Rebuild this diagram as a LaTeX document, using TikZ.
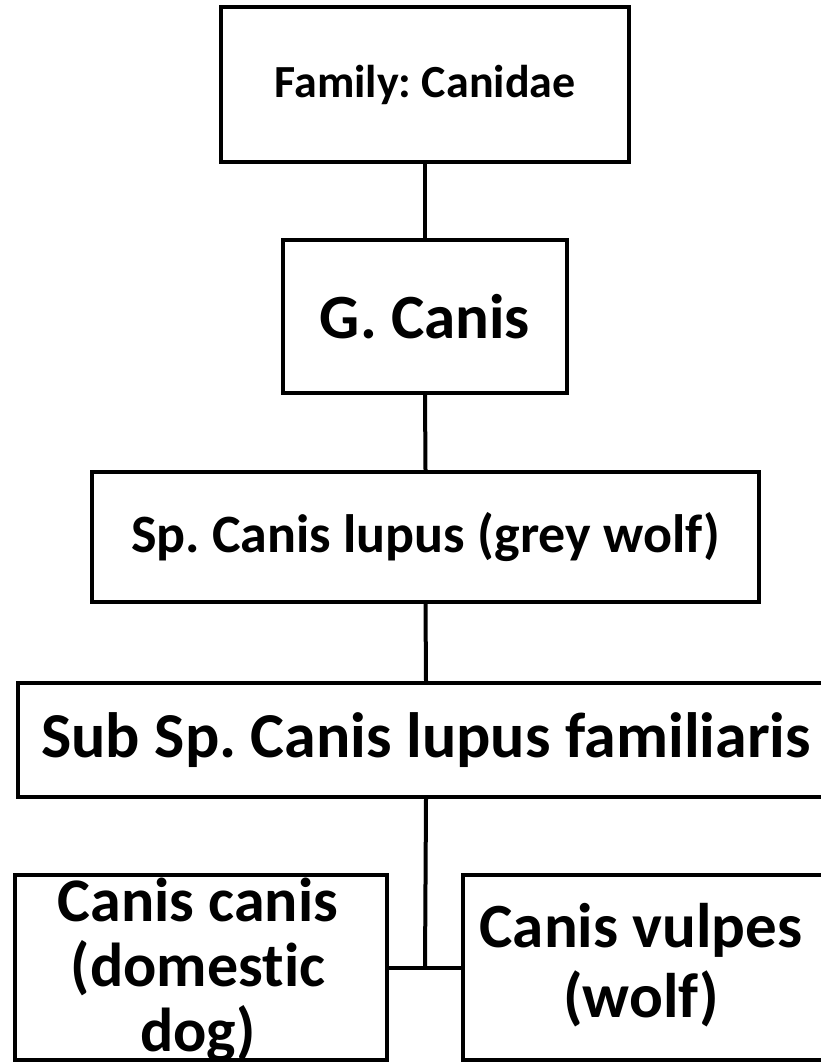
\documentclass[tikz,border=0pt]{standalone}
\usepackage{fontspec}
\setmainfont[Ligatures={NoCommon,NoRare,NoDiscretionary}]{Carlito}
\frenchspacing
\begin{document}
\begin{tikzpicture}[x=1pt, y=-1pt,
  taxon/.style={draw=black, line width=4pt, fill=white, inner sep=0pt,
    rectangle, align=center, font=\bfseries},
  link/.style={draw=black, line width=4pt},
  label/.style={inner sep=0pt, align=center, font=\bfseries}]
  % page frame
  \useasboundingbox (0,0) rectangle (821,1062);

  % ranks, top to bottom
  \node[taxon, minimum width=408pt, minimum height=155pt,
        font=\bfseries\fontsize{46}{54}\selectfont] (family) at (425,84.5) {Family: Canidae};
  \node[taxon, minimum width=284pt, minimum height=153pt,
        font=\bfseries\fontsize{63}{72}\selectfont] (genus) at (425,316.5) {G. Canis};
  \node[taxon, minimum width=667pt, minimum height=130pt,
        font=\bfseries\fontsize{54}{62}\selectfont] (species) at (425.5,537) {Sp. Canis lupus (grey wolf)};
  \node[taxon, minimum width=816pt, minimum height=114pt,
        font=\bfseries\fontsize{64}{72}\selectfont] (subspecies) at (426,740) {Sub Sp. Canis lupus familiaris};

  % the two leaves
  \node[taxon, minimum width=372pt, minimum height=185pt] (dog) at (201,967.5) {};
  \node[label, font=\bfseries\fontsize{62}{65}\selectfont] (dogtext) at (198,970)
        {Canis canis\\(domestic\\dog)};
  \node[taxon, minimum width=370pt, minimum height=185pt] (wolf) at (648,967.5) {};
  \node[label, font=\bfseries\fontsize{63}{70}\selectfont] (wolftext) at (641,965)
        {Canis vulpes\\(wolf)};

  % connectors
  \coordinate (split) at (425,967.5);
  \draw[link] (family.south) -- (genus.north);
  \draw[link] (genus.south) -- (species.north);
  \draw[link] (species.south) -- (subspecies.north);
  \draw[link] (subspecies.south) -- (split);
  \draw[link] (dog.east) -- (wolf.west);
\end{tikzpicture}
\end{document}
